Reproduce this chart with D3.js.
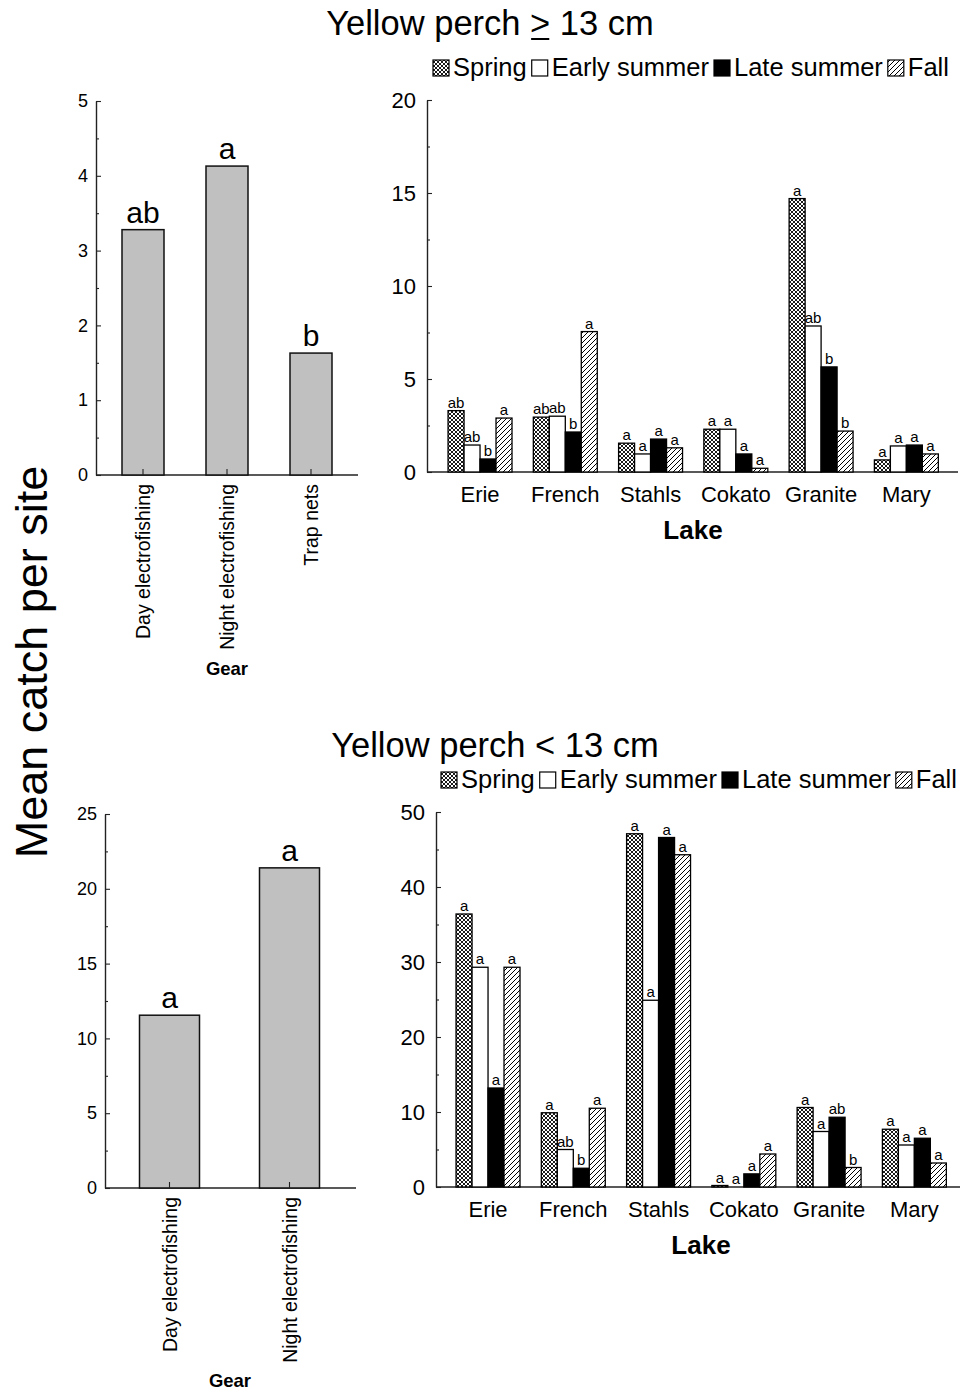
<!DOCTYPE html>
<html><head><meta charset="utf-8">
<script src="https://cdn.jsdelivr.net/npm/d3@7"></script>
<style>
body{margin:0;background:#fff}
svg{display:block}
text{font-family:"Liberation Sans",Arial,Helvetica,sans-serif;fill:#000}
</style>
</head><body>
<svg id="c" width="963" height="1391"></svg>
<script>
// ---------------- DATA ----------------
const seasons = ["Spring", "Early summer", "Late summer", "Fall"];
const lakes = ["Erie", "French", "Stahls", "Cokato", "Granite", "Mary"];

// Yellow perch >= 13 cm, by gear
const gearTop = ["Day electrofishing", "Night electrofishing", "Trap nets"];
const gearTopValues = [3.28, 4.13, 1.63];
const gearTopLetters = ["ab", "a", "b"];

// Yellow perch >= 13 cm, by lake and season
const largeSpring = [3.3, 2.95, 1.55, 2.3, 14.7, 0.65];
const largeEarly  = [1.45, 3.0, 0.97, 2.3, 7.85, 1.4];
const largeLate   = [0.7, 2.15, 1.77, 0.97, 5.65, 1.45];
const largeFall   = [2.9, 7.55, 1.3, 0.2, 2.2, 0.97];
const largeSpringLet = ["ab", "ab", "a", "a", "a", "a"];
const largeEarlyLet  = ["ab", "ab", "a", "a", "ab", "a"];
const largeLateLet   = ["b", "b", "a", "a", "b", "a"];
const largeFallLet   = ["a", "a", "a", "a", "b", "a"];

// Yellow perch < 13 cm, by gear
const gearBottom = ["Day electrofishing", "Night electrofishing"];
const gearBottomValues = [11.55, 21.4];
const gearBottomLetters = ["a", "a"];

// Yellow perch < 13 cm, by lake and season
const smallSpring = [36.4, 9.9, 47.1, 0.2, 10.6, 7.7];
const smallEarly  = [29.3, 5.0, 24.9, 0.0, 7.4, 5.6];
const smallLate   = [13.2, 2.5, 46.6, 1.75, 9.3, 6.5];
const smallFall   = [29.3, 10.5, 44.3, 4.4, 2.6, 3.2];
const smallSpringLet = ["a", "a", "a", "a", "a", "a"];
const smallEarlyLet  = ["a", "ab", "a", "a", "a", "a"];
const smallLateLet   = ["a", "b", "a", "a", "ab", "a"];
const smallFallLet   = ["a", "a", "a", "a", "b", "a"];

// ---------------- DRAWING ----------------
const svg = d3.select("#c");
const defs = svg.append("defs");

const pSpring = defs.append("pattern").attr("id", "pSpring")
  .attr("patternUnits", "userSpaceOnUse").attr("width", 4).attr("height", 4);
pSpring.append("rect").attr("width", 4).attr("height", 4).attr("fill", "#fff");
pSpring.append("path").attr("d", "M0,0L4,4M4,0L0,4").attr("stroke", "#000").attr("stroke-width", 0.9);

const pFall = defs.append("pattern").attr("id", "pFall")
  .attr("patternUnits", "userSpaceOnUse").attr("width", 5).attr("height", 5);
pFall.append("rect").attr("width", 5).attr("height", 5).attr("fill", "#fff");
pFall.append("path").attr("d", "M-1,6L6,-1M-2,2L2,-2M3,7L7,3").attr("stroke", "#000").attr("stroke-width", 1);

const seasonFill = ["url(#pSpring)", "#fff", "#000", "url(#pFall)"];
const AX = "#222";

function styleAxis(g, fontSize) {
  g.select(".domain").attr("stroke", AX).attr("stroke-width", 1.4);
  g.selectAll(".tick line").attr("stroke", AX).attr("stroke-width", 1.1);
  g.selectAll(".tick text").attr("font-size", fontSize)
    .attr("font-family", '"Liberation Sans",Arial,sans-serif').attr("fill", "#000");
}

function yAxes(y, axisX, yMax, step, minor, fontSize, pad) {
  const ga = svg.append("g").attr("transform", `translate(${axisX},0)`)
    .call(d3.axisLeft(y).tickValues(d3.range(0, yMax + 1e-9, step)).tickFormat(d3.format("d"))
      .tickSize(-5).tickSizeOuter(0).tickPadding(pad));
  styleAxis(ga, fontSize);
  const mins = d3.range(minor, yMax, step);
  const gm = svg.append("g").attr("transform", `translate(${axisX},0)`)
    .call(d3.axisLeft(y).tickValues(mins).tickSize(-3).tickFormat(""));
  gm.select(".domain").remove();
  gm.selectAll(".tick line").attr("stroke", AX).attr("stroke-width", 1.1);
}

function gearPanel(o) {
  const y = d3.scaleLinear().domain([0, o.yMax]).range([o.y0, o.y1]);
  const x = d3.scaleBand().domain(o.cats).range(o.band).paddingInner(0.5).paddingOuter(0.25);
  yAxes(y, o.axisX, o.yMax, o.step, o.step / 2, o.tickFont, 8);
  svg.append("line").attr("x1", o.axisX).attr("x2", o.xEnd).attr("y1", o.y0).attr("y2", o.y0)
    .attr("stroke", AX).attr("stroke-width", 1.4);
  const data = o.cats.map((c, i) => ({c, v: o.vals[i], l: o.letters[i]}));
  svg.append("g").selectAll("rect").data(data).join("rect")
    .attr("x", d => x(d.c)).attr("y", d => y(d.v))
    .attr("width", x.bandwidth()).attr("height", d => y(0) - y(d.v))
    .attr("fill", "#c0c0c0").attr("stroke", "#111").attr("stroke-width", 1.5);
  const gx = svg.append("g").attr("transform", `translate(0,${o.y0})`)
    .call(d3.axisBottom(x).tickSize(-6).tickFormat(""));
  gx.select(".domain").remove();
  gx.selectAll(".tick line").attr("stroke", AX).attr("stroke-width", 1.1);
  svg.append("g").selectAll("text").data(data).join("text")
    .attr("x", d => x(d.c) + x.bandwidth() / 2).attr("y", d => y(d.v) - 7)
    .attr("text-anchor", "middle").attr("font-size", o.letterFont).text(d => d.l);
  svg.append("g").selectAll("text").data(data).join("text")
    .attr("transform", d => `translate(${x(d.c) + x.bandwidth() / 2 + 7},${o.y0 + 9}) rotate(-90)`)
    .attr("text-anchor", "end").attr("font-size", 19.5).text(d => d.c);
  svg.append("text").attr("x", o.gearX).attr("y", o.gearY).attr("text-anchor", "middle")
    .attr("font-size", 18.5).attr("font-weight", "bold").text("Gear");
}

function lakePanel(o) {
  const y = d3.scaleLinear().domain([0, o.yMax]).range([o.y0, o.y1]);
  const x = d3.scaleBand().domain(lakes).range(o.band).paddingInner(0.25).paddingOuter(0.125);
  const xs = d3.scaleBand().domain(seasons).range([0, x.bandwidth()]);
  yAxes(y, o.axisX, o.yMax, o.step, o.step / 2, 22, 11);
  svg.append("line").attr("x1", o.axisX).attr("x2", o.xEnd).attr("y1", o.y0).attr("y2", o.y0)
    .attr("stroke", AX).attr("stroke-width", 1.4);
  const data = [];
  lakes.forEach((lk, i) => seasons.forEach((s, j) => data.push({lk, s, j, v: o.series[j][i], l: o.letters[j][i]})));
  svg.append("g").selectAll("rect").data(data).join("rect")
    .attr("x", d => x(d.lk) + xs(d.s)).attr("y", d => y(d.v))
    .attr("width", xs.bandwidth()).attr("height", d => y(0) - y(d.v))
    .attr("fill", d => seasonFill[d.j]).attr("stroke", "#000").attr("stroke-width", 1.3);
  svg.append("g").selectAll("text").data(data).join("text")
    .attr("x", d => x(d.lk) + xs(d.s) + xs.bandwidth() / 2).attr("y", d => y(d.v) - 3)
    .attr("text-anchor", "middle").attr("font-size", 15).text(d => d.l);
  svg.append("g").selectAll("text").data(lakes).join("text")
    .attr("x", d => x(d) + x.bandwidth() / 2).attr("y", o.y0 + 30)
    .attr("text-anchor", "middle").attr("font-size", 22).text(d => d);
  svg.append("text").attr("x", o.lakeX).attr("y", o.y0 + 67).attr("text-anchor", "middle")
    .attr("font-size", 26).attr("font-weight", "bold").text("Lake");
}

function legend(x0, top) {
  let x = x0;
  seasons.forEach((s, j) => {
    svg.append("rect").attr("x", x).attr("y", top).attr("width", 16).attr("height", 16)
      .attr("fill", seasonFill[j]).attr("stroke", "#000").attr("stroke-width", 1.2);
    x += 20;
    const t = svg.append("text").attr("x", x).attr("y", top + 16).attr("font-size", 25.5).text(s);
    x += t.node().getComputedTextLength() + 5;
  });
}

function title(cx, base, pre, sym, post, underline) {
  const t = svg.append("text").attr("x", cx).attr("y", base).attr("text-anchor", "middle").attr("font-size", 34.5);
  t.append("tspan").text(pre);
  t.append("tspan").text(sym);
  t.append("tspan").text(post);
  if (underline) {
    const e = t.node().getExtentOfChar(pre.length);
    svg.append("line").attr("x1", e.x + 1).attr("x2", e.x + e.width - 1)
      .attr("y1", base + 4).attr("y2", base + 4).attr("stroke", "#000").attr("stroke-width", 2);
  }
}

// Top row
title(490, 35, "Yellow perch ", ">", " 13 cm", true);
legend(433, 60);
gearPanel({cats: gearTop, vals: gearTopValues, letters: gearTopLetters, yMax: 5, step: 1,
  y0: 475, y1: 101, axisX: 96, xEnd: 358, band: [101, 353], tickFont: 18, letterFont: 30,
  gearX: 227, gearY: 675});
lakePanel({series: [largeSpring, largeEarly, largeLate, largeFall],
  letters: [largeSpringLet, largeEarlyLet, largeLateLet, largeFallLet],
  yMax: 20, step: 5, y0: 472, y1: 100, axisX: 427, xEnd: 958, band: [437.4, 949], lakeX: 693});

// Bottom row
title(495, 757, "Yellow perch ", "<", " 13 cm", false);
legend(441, 772);
gearPanel({cats: gearBottom, vals: gearBottomValues, letters: gearBottomLetters, yMax: 25, step: 5,
  y0: 1188, y1: 814, axisX: 105, xEnd: 356, band: [109.5, 349.5], tickFont: 18, letterFont: 30,
  gearX: 230, gearY: 1387});
lakePanel({series: [smallSpring, smallEarly, smallLate, smallFall],
  letters: [smallSpringLet, smallEarlyLet, smallLateLet, smallFallLet],
  yMax: 50, step: 10, y0: 1187, y1: 812, axisX: 436, xEnd: 960, band: [445.4, 957], lakeX: 701});

// Shared y title
svg.append("text").attr("transform", "translate(47,662) rotate(-90)").attr("text-anchor", "middle")
  .attr("font-size", 45).text("Mean catch per site");
</script>
</body></html>
